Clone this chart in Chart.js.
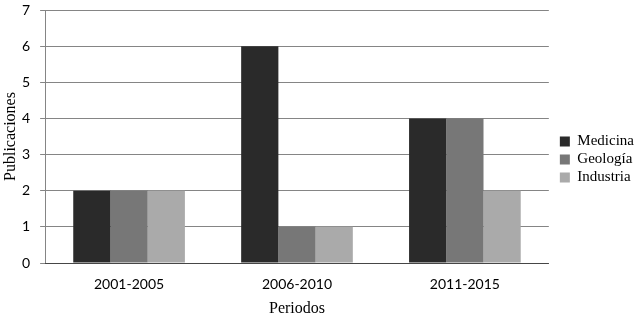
<!DOCTYPE html>
<html>
<head>
<meta charset="utf-8">
<script src="https://cdn.jsdelivr.net/npm/chart.js@4"></script>
<style>
  body { margin: 0; background: #fff; }
  #wrap { width: 644px; height: 319px; position: relative; }
</style>
</head>
<body>
<div id="wrap"><canvas id="chart"></canvas></div>
<script>
// Data
const periodos = ['2001-2005', '2006-2010', '2011-2015'];
const medicina = [2, 6, 4];
const geologia = [2, 1, 4];
const industria = [2, 1, 2];

const tickFont = { family: 'Lato', size: 14, lineHeight: 1 };
const legendFont = { family: 'Liberation Serif', size: 15 };
const titleFont = { family: 'Liberation Serif', size: 16, lineHeight: 1 };
const lineGray = 'rgba(0,0,0,0.48)';

new Chart(document.getElementById('chart').getContext('2d'), {
    type: 'bar',
    data: {
        labels: periodos,
        datasets: [{
            label: 'Medicina',
            data: medicina,
            backgroundColor: '#2a2a2a'
        },
        {
            label: 'Geología',
            data: geologia,
            backgroundColor: '#777777'
        },
        {
            label: 'Industria',
            data: industria,
            backgroundColor: '#aaaaaa'
        }]
    },
    options: {
        responsive: true,
        maintainAspectRatio: false,
        animation: false,
        layout: {
            padding: { top: 0, right: 0, left: 3, bottom: 0 }
        },
        datasets: {
            bar: {
                categoryPercentage: 0.665,
                barPercentage: 1
            }
        },
        plugins: {
            tooltip: { enabled: false },
            legend: {
                position: 'right',
                align: 'center',
                labels: {
                    color: '#000',
                    font: legendFont,
                    boxWidth: 10,
                    boxHeight: 10,
                    padding: 3
                }
            }
        },
        scales: {
            x: {
                grid: { display: false, drawTicks: false },
                border: { display: true, color: lineGray },
                ticks: { color: '#000', font: tickFont, padding: 14 },
                title: {
                    display: true,
                    text: 'Periodos',
                    color: '#000',
                    font: titleFont,
                    padding: { top: -4, bottom: 2 }
                }
            },
            y: {
                z: 1,
                min: 0,
                max: 7,
                ticks: { stepSize: 1, color: '#000', font: tickFont, padding: 10 },
                grid: {
                    color: lineGray,
                    tickLength: 5
                },
                border: { display: true, color: lineGray },
                title: {
                    display: true,
                    text: 'Publicaciones',
                    color: '#000',
                    font: titleFont,
                    padding: 0
                },
                // tighten the axis box: less room above the plot and beside the title
                afterFit: function(scale) {
                    scale.width -= 7;
                    scale.paddingTop = 10;
                }
            },
            // empty axis, only keeps a gap between the plot and the legend
            gap: {
                position: 'right',
                grid: { display: false },
                border: { display: false },
                ticks: { display: false },
                afterFit: function(scale) {
                    scale.width = 8;
                    scale.paddingTop = 0;
                    scale.paddingBottom = 0;
                }
            }
        }
    }
});
</script>
</body>
</html>
